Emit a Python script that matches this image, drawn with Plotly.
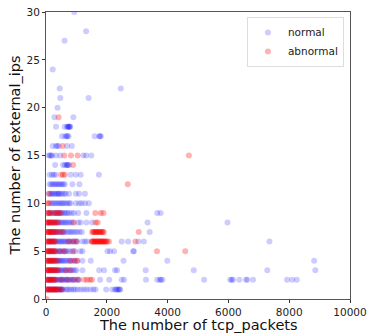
import plotly.graph_objects as go

# ---- data: tcp_packets (x) per external_ips level (y) ----
normal_rows = {
    1: [30, 70, 110, 150, 190, 230, 260, 300, 330, 370, 400, 440, 470, 500, 530, 560,
        650, 700, 760, 830, 900, 960, 1050, 1150, 1250, 1340, 1450, 1560, 1630,
        1980, 2180, 2270, 2310, 2350, 2380, 2420, 2440],
    2: [40, 90, 140, 180, 220, 270, 310, 350, 400, 440, 480, 520, 560, 600, 640, 690,
        730, 780, 820, 870, 920, 980, 1050, 1090, 1780, 2080, 2490, 2570, 3290,
        3660, 3740, 3780, 3830, 5200, 6060, 6110, 6150, 6360, 6580, 6620, 6810,
        7930, 8100, 8250],
    3: [50, 100, 150, 200, 240, 280, 330, 370, 420, 460, 500, 550, 600, 650, 700,
        760, 820, 880, 940, 1000, 1200, 1750, 1910, 2270, 2340, 3280, 4860, 7280, 8860],
    4: [60, 110, 160, 210, 260, 300, 350, 400, 430, 470, 510, 550, 600, 650, 700,
        760, 820, 880, 950, 1030, 1200, 1470, 2550, 3990, 8820],
    5: [60, 110, 160, 210, 250, 300, 350, 400, 450, 500, 550, 600, 650, 700, 780,
        870, 960, 1130, 1200, 2020, 2110, 2240, 2870, 2890],
    6: [80, 130, 180, 230, 280, 330, 380, 420, 470, 510, 560, 600, 650, 700, 750,
        800, 860, 920, 980, 1030, 1200, 1280, 1360, 2490, 2700, 3040, 3220, 7350],
    7: [90, 140, 190, 240, 290, 340, 390, 430, 480, 530, 580, 620, 700, 760, 820,
        880, 950, 1020, 1100, 1180, 3410],
    8: [60, 120, 180, 240, 290, 340, 400, 450, 500, 550, 600, 650, 700, 760, 820,
        880, 1060, 1140, 1330, 1520, 3340, 5970],
    9: [70, 130, 190, 250, 300, 350, 400, 450, 500, 540, 600, 650, 700, 760, 840,
        920, 1060, 1330, 3660, 3770],
    10: [150, 210, 260, 320, 370, 430, 480, 530, 580, 640, 700, 760, 810, 980, 1090,
         1170, 1280, 1410],
    11: [100, 150, 190, 230, 280, 320, 370, 410, 430, 480, 540, 600, 650, 760, 980,
         1090, 1280],
    12: [120, 170, 220, 270, 320, 370, 420, 470, 520, 570, 620, 870, 1100],
    13: [120, 200, 260, 320, 810, 980, 1140, 1740],
    14: [300, 560, 620, 680, 700, 720, 760],
    15: [90, 130, 170, 200, 330, 470, 1230, 1320, 1490],
    16: [220, 330, 370, 415, 690, 850],
    17: [525, 630, 680, 700, 740, 1600, 1750, 1780, 1800],
    18: [330, 610, 690, 720, 740, 760, 780, 800],
    19: [280, 900],
    20: [380],
    21: [470, 1400],
    22: [450, 2460],
    24: [220],
    27: [610],
    28: [1320],
    30: [930],
}

abnormal_rows = {
    0: [20],
    1: [20, 50, 80, 110, 140, 170, 200, 230, 260, 290, 320, 350, 380, 450, 520],
    2: [20, 50, 80, 110, 140, 170, 200, 240, 280, 310, 500, 700, 900, 1050,
        1260, 1350, 1450, 1510],
    3: [20, 50, 80, 110, 140, 170, 200, 240, 280, 320, 360, 400, 650, 800],
    4: [20, 50, 80, 110, 140, 170, 200, 240, 280, 320, 370, 800, 950, 1030],
    5: [20, 50, 80, 110, 140, 170, 200, 240, 280, 300, 450, 600, 900, 3650, 4580],
    6: [20, 50, 80, 110, 140, 170, 200, 240, 280, 300, 750, 900, 1000,
        1500, 1520, 1550, 1570, 1600, 1620, 1650, 1670, 1700, 1720, 1750, 1770,
        1800, 1820, 1850, 1870, 1900, 1920, 1950, 1980, 2010, 2070, 2940],
    7: [20, 50, 80, 110, 140, 170, 200, 240, 280, 320, 370, 480, 560,
        1520, 1550, 1580, 1610, 1640, 1660, 1690, 1720, 1750, 1780, 1810,
        1840, 1870, 1900, 3050],
    8: [20, 50, 80, 110, 140, 180, 220, 260, 300, 350, 400, 920, 1630, 1700],
    9: [40, 80, 120, 150, 260, 320, 380, 430, 480, 1620, 1800, 1890],
    10: [60, 90],
    11: [100],
    12: [2690],
    13: [500, 560, 620],
    14: [890],
    15: [600, 820, 1040, 4700],
    16: [550],
    19: [415],
}

x_ticks = [0, 2000, 4000, 6000, 8000, 10000]
x_tick_labels = ["0", "2000", "4000", "6000", "8000", "10000"]
y_ticks = [0, 5, 10, 15, 20, 25, 30]
y_tick_labels = ["0", "5", "10", "15", "20", "25", "30"]
x_title = "The number of tcp_packets"
y_title = "The number of external_ips"

normal_x = [x for y, xs in normal_rows.items() for x in xs]
normal_y = [y for y, xs in normal_rows.items() for x in xs]
abnormal_x = [x for y, xs in abnormal_rows.items() for x in xs]
abnormal_y = [y for y, xs in abnormal_rows.items() for x in xs]

font_family = "DejaVu Sans"

fig = go.Figure()
fig.add_trace(go.Scatter(
    x=normal_x, y=normal_y, mode="markers", name="normal",
    marker=dict(color="rgb(0,0,255)", opacity=0.2, size=6, line=dict(width=0)),
))
fig.add_trace(go.Scatter(
    x=abnormal_x, y=abnormal_y, mode="markers", name="abnormal",
    marker=dict(color="rgb(255,0,0)", opacity=0.3, size=6, line=dict(width=0)),
))

axis_common = dict(
    showgrid=False, zeroline=False, showline=True, linecolor="#555", linewidth=1,
    mirror=True, ticks="outside", ticklen=3, tickcolor="#333", automargin=False,
    ticklabeloverflow="allow",
    tickfont=dict(family=font_family, size=10.5, color="#222"),
)
fig.update_xaxes(range=[0, 10000], tickvals=x_ticks, ticktext=x_tick_labels,
                 **axis_common)
fig.update_yaxes(range=[0, 30], tickvals=y_ticks, ticktext=y_tick_labels,
                 **axis_common)

title_font = dict(family=font_family, size=14.5, color="#111")
fig.add_annotation(text=x_title, xref="paper", yref="paper", x=0.5, y=-0.121,
                   xanchor="center", yanchor="bottom", showarrow=False,
                   font=title_font, borderpad=0)
fig.add_annotation(text=y_title, xref="paper", yref="paper", x=-0.102, y=0.5,
                   xanchor="center", yanchor="middle", textangle=-90,
                   showarrow=False, font=title_font, borderpad=0)

fig.update_layout(
    width=367, height=333,
    margin=dict(l=46, r=17, t=12, b=34, autoexpand=False),
    plot_bgcolor="white", paper_bgcolor="white",
    font=dict(family=font_family),
    legend=dict(x=0.98, y=0.983, xanchor="right", yanchor="top",
                bgcolor="rgba(255,255,255,0.8)", bordercolor="#ddd", borderwidth=1,
                font=dict(family=font_family, size=10.5, color="#222"),
                itemwidth=30, tracegroupgap=0),
    showlegend=True,
)

fig.write_html("out.html")
